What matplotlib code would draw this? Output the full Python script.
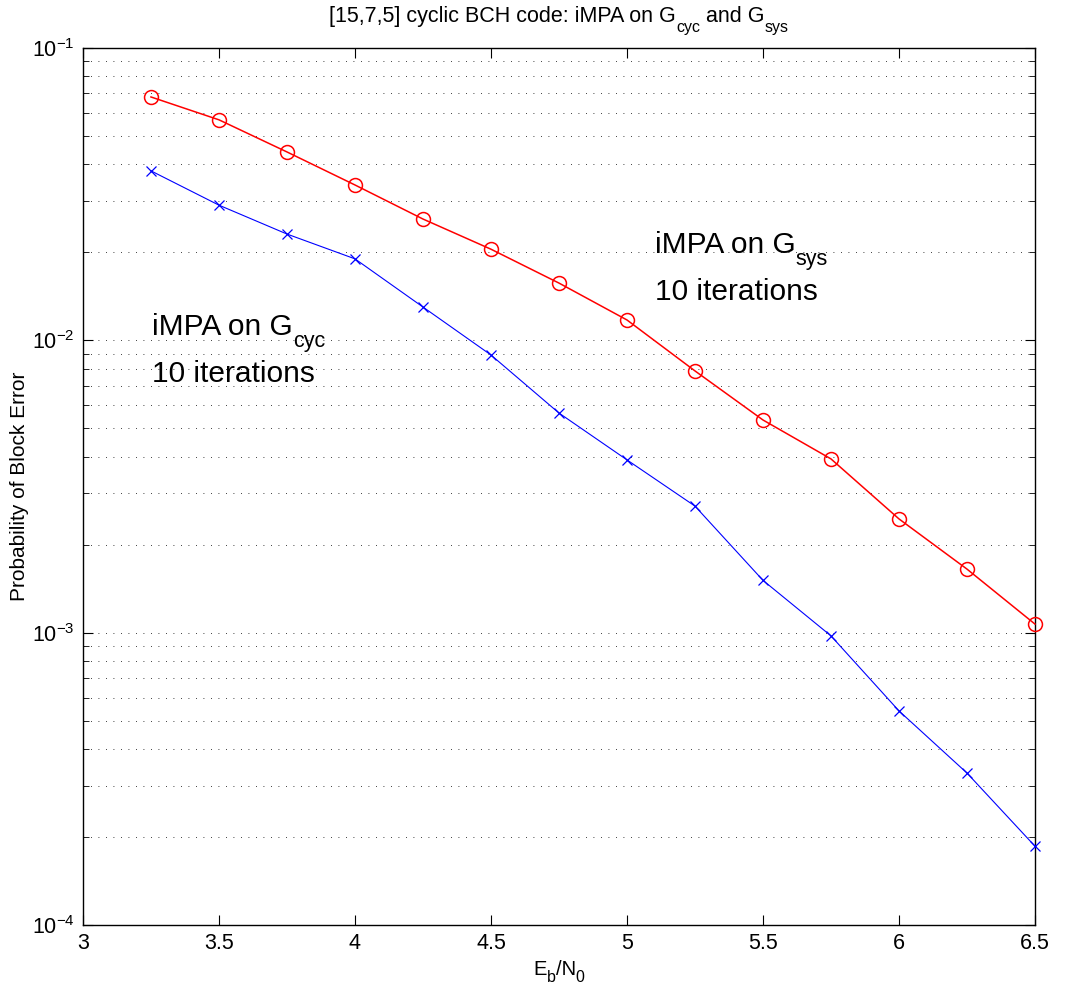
import numpy as np
import matplotlib.pyplot as plt
from matplotlib.transforms import IdentityTransform

plt.rcParams['font.family'] = ['Liberation Sans', 'DejaVu Sans']
plt.rcParams['mathtext.fontset'] = 'custom'
plt.rcParams['mathtext.rm'] = 'Liberation Sans'
plt.rcParams['mathtext.it'] = 'Liberation Sans'
plt.rcParams['mathtext.default'] = 'regular'

# Eb/N0 (dB)
ebn0 = [3.25, 3.5, 3.75, 4.0, 4.25, 4.5, 4.75, 5.0, 5.25, 5.5, 5.75, 6.0, 6.25, 6.5]

# iMPA on G_sys, 10 iterations
p_sys = [0.068, 0.0568, 0.0441, 0.0340, 0.0260, 0.0205, 0.0157, 0.01174,
         0.00786, 0.00534, 0.00393, 0.00245, 0.00165, 0.00107]

# iMPA on G_cyc, 10 iterations
p_cyc = [0.0380, 0.0290, 0.0231, 0.0190, 0.0130, 0.00891, 0.00564, 0.00390,
         0.00271, 0.00151, 0.000975, 0.00054, 0.000331, 0.000186]

x_ticks = [3, 3.5, 4, 4.5, 5, 5.5, 6, 6.5]
x_tick_labels = ['3', '3.5', '4', '4.5', '5', '5.5', '6', '6.5']


def rich_text(fig, xy, parts, transform, ha='left'):
    # matlab style text: each part is (string, fontsize, drop in points)
    renderer = fig.canvas.get_renderer()
    x0, y0 = transform.transform(xy)
    pieces = []
    cx = 0.0
    for s, size, drop in parts:
        t = fig.text(0, 0, s, fontsize=size, ha='left', va='baseline',
                     transform=IdentityTransform())
        w = t.get_window_extent(renderer).width
        pieces.append((t, cx, drop))
        cx += w
    start = x0 - cx / 2 if ha == 'center' else x0
    for t, ox, drop in pieces:
        t.set_position((start + ox, y0 - drop * fig.dpi / 72))


fig = plt.figure(figsize=(10.65, 9.96), dpi=100)
ax = fig.add_axes([0.0779, 0.0713, 0.8939, 0.8805])

ax.semilogy(ebn0, p_sys, color='red', lw=1.1, marker='o', ms=10,
            mfc='none', mec='red', mew=1.1, clip_on=False, zorder=3)
ax.semilogy(ebn0, p_cyc, color='blue', lw=0.8, marker='x', ms=7,
            mec='blue', mew=0.9, clip_on=False, zorder=3)

ax.set_xlim(3, 6.5)
ax.set_ylim(1e-4, 1e-1)
ax.set_xticks(x_ticks)
ax.set_xticklabels(x_tick_labels)

ax.grid(True, which='both', axis='y', color='black', linestyle=(0, (1, 8)),
        linewidth=0.6)
ax.grid(False, axis='x')

ax.tick_params(which='both', direction='in', top=True, right=True,
               labelsize=15.5)
ax.tick_params(which='major', length=7, width=0.8, pad=6)
ax.tick_params(which='minor', length=4, width=0.6)
for s in ax.spines.values():
    s.set_linewidth(1.0)

ax.set_ylabel('Probability of Block Error', fontsize=15, va='center')
ax.yaxis.set_label_coords(-0.067, 0.5)

# title and x label with matlab-like subscripts
fig_px = IdentityTransform()
rich_text(fig, (559, 974), [('[15,7,5] cyclic BCH code: iMPA on G', 15.5, 0),
                            ('cyc', 11.5, 7),
                            (' and G', 15.5, 0),
                            ('sys', 11.5, 7)], fig_px, ha='center')
rich_text(fig, (559, 21), [('E', 14.5, 0), ('b', 11.5, 5),
                           ('/N', 14.5, 0), ('0', 11.5, 5)], fig_px,
          ha='center')

# curve labels
rich_text(fig, (3.2537, 0.01043), [('iMPA on G', 21.5, 0), ('cyc', 15.5, 8.6)],
          ax.transData)
rich_text(fig, (3.2537, 0.0072), [('10 iterations', 21.5, 0)], ax.transData)
rich_text(fig, (5.103, 0.01989), [('iMPA on G', 21.5, 0), ('sys', 15.5, 8.6)],
          ax.transData)
rich_text(fig, (5.103, 0.01374), [('10 iterations', 21.5, 0)], ax.transData)

fig.savefig('out.png', dpi=100)
